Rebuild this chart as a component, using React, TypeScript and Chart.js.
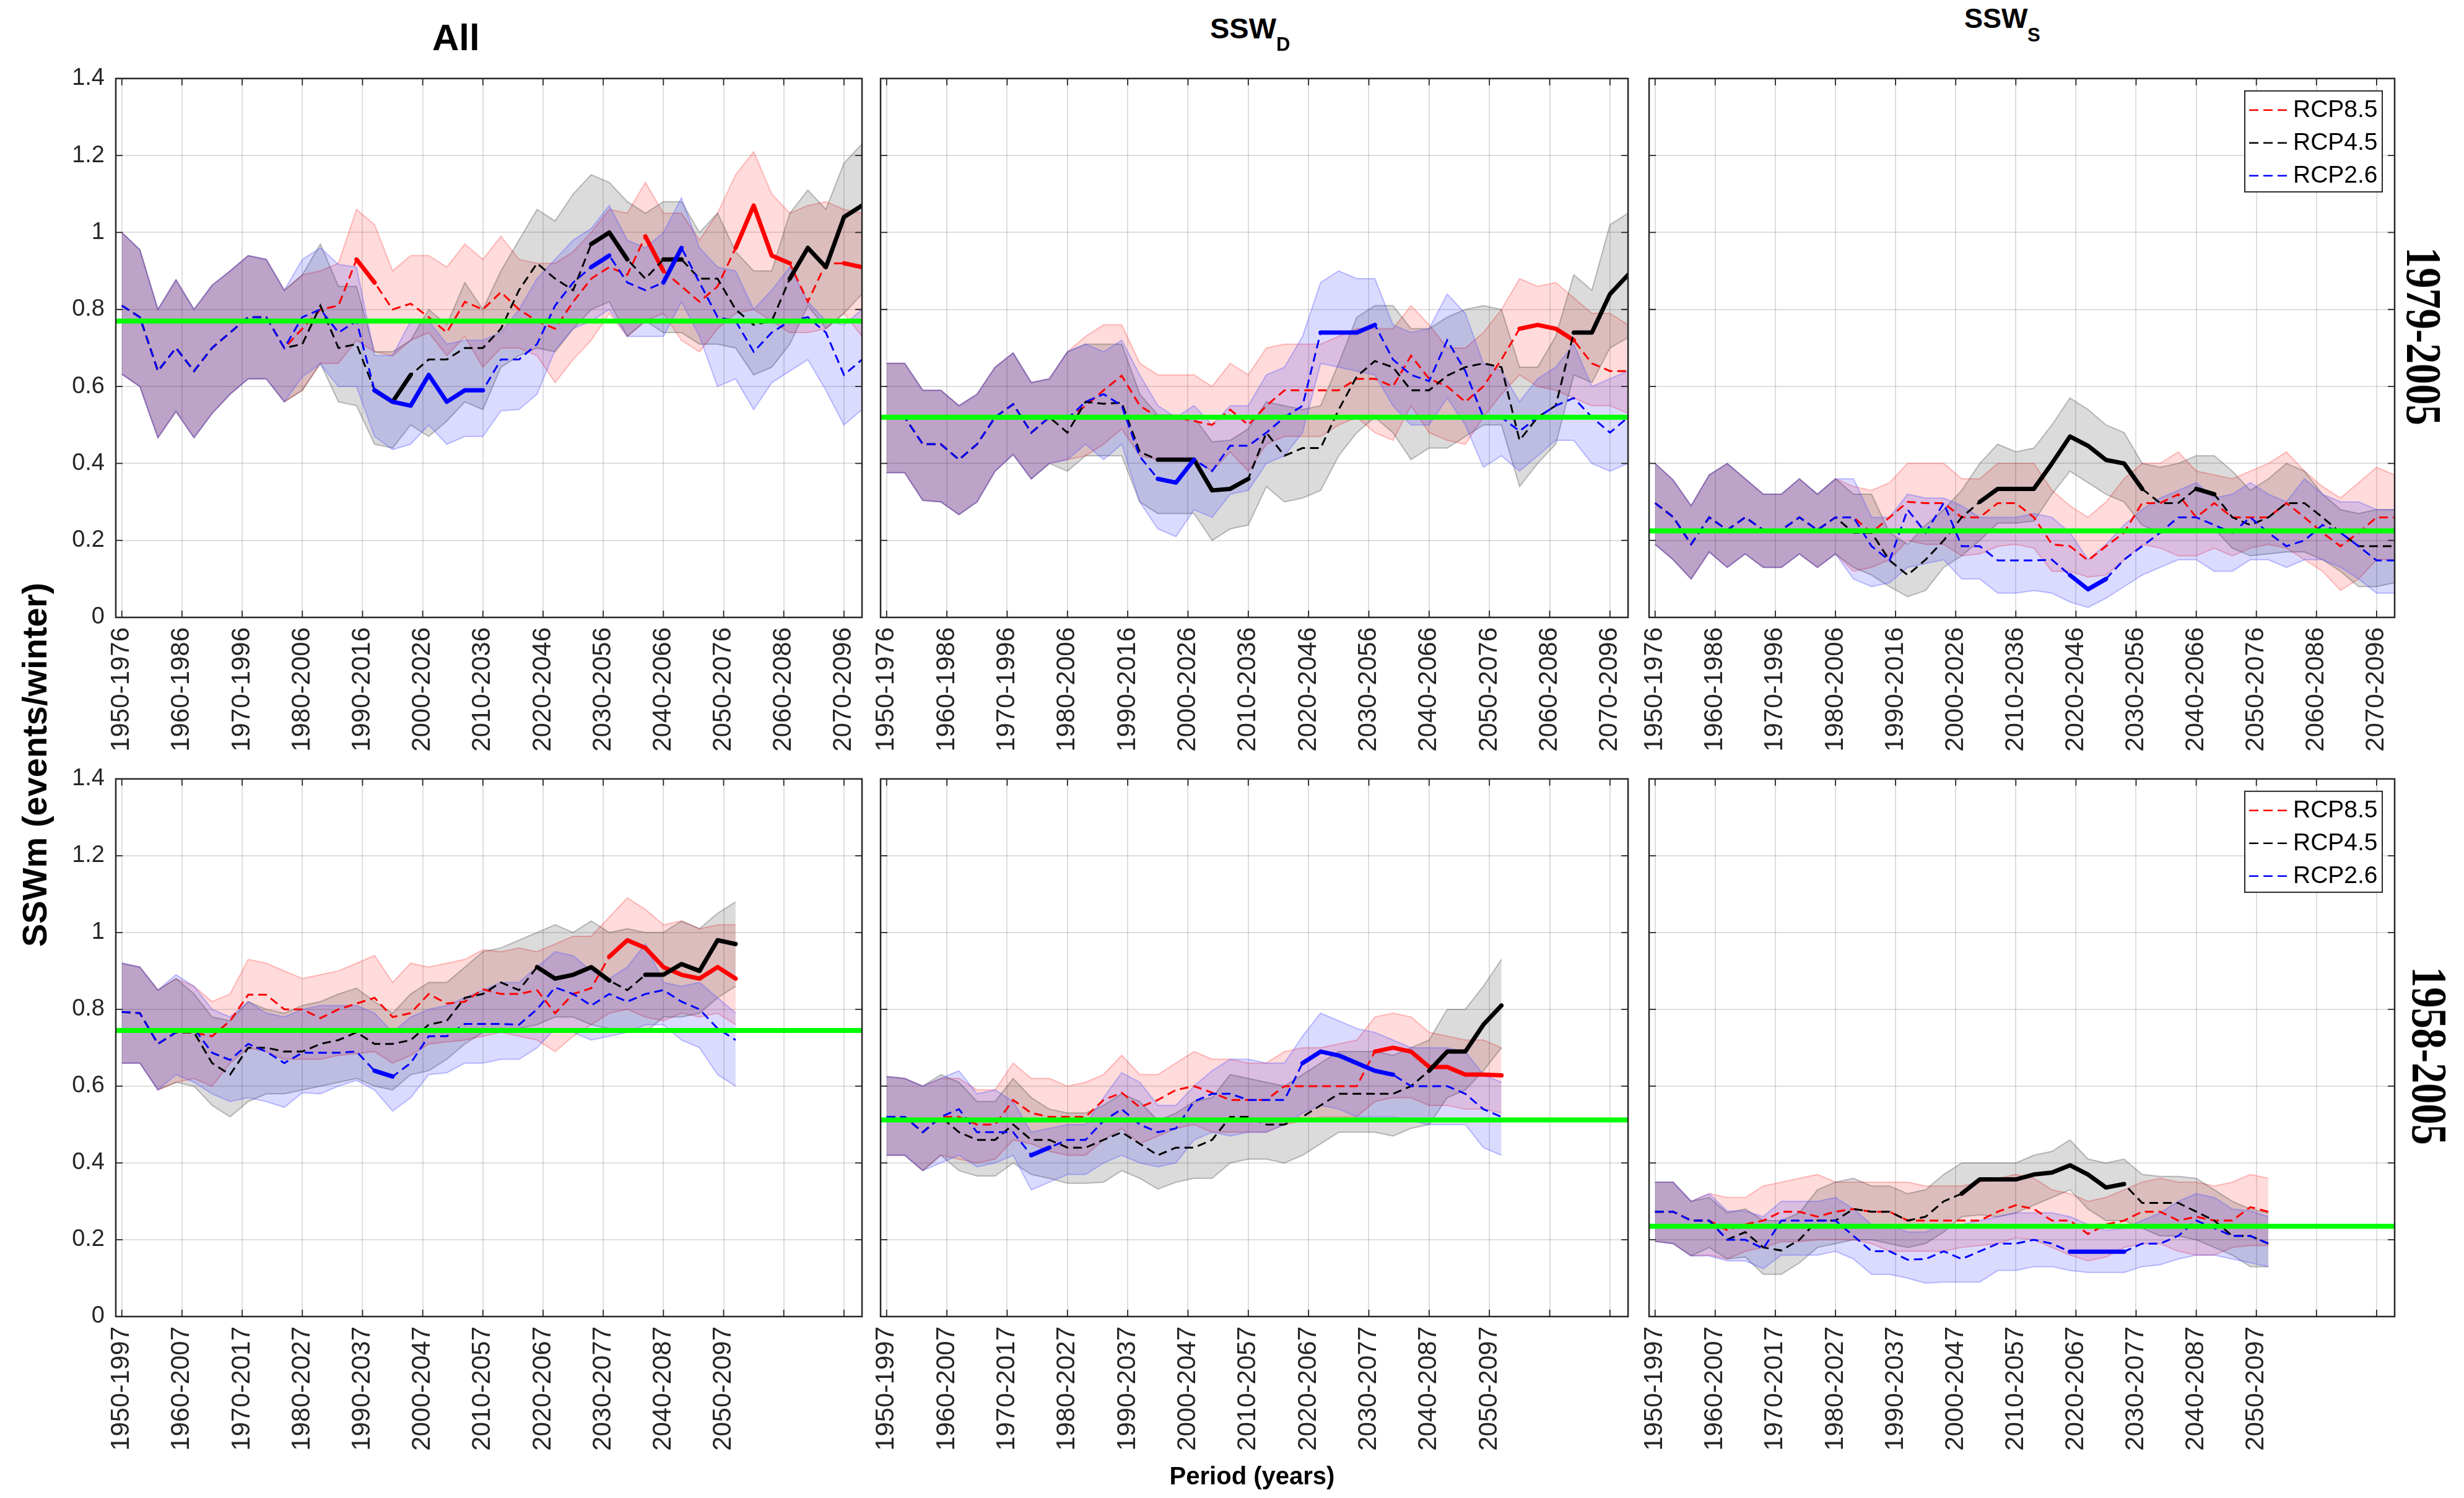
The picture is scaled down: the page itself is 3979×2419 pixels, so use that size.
import { useEffect, useRef } from 'react';
import { Chart, registerables } from 'chart.js';

Chart.register(...registerables);

document.body.style.margin = '0';
document.body.style.overflow = 'hidden';

const FONT = '"Liberation Sans", Arial, Helvetica, sans-serif';

// start year of each moving window
const yearsTop = [1950, 1953, 1956, 1959, 1962, 1965, 1968, 1971, 1974, 1977, 1980, 1983, 1986, 1989, 1992, 1995, 1998, 2001, 2004, 2007, 2010, 2013, 2016, 2019, 2022, 2025, 2028, 2031, 2034, 2037, 2040, 2043, 2046, 2049, 2052, 2055, 2058, 2061, 2064, 2067, 2070, 2073];
const yearsBottom = [1950, 1953, 1956, 1959, 1962, 1965, 1968, 1971, 1974, 1977, 1980, 1983, 1986, 1989, 1992, 1995, 1998, 2001, 2004, 2007, 2010, 2013, 2016, 2019, 2022, 2025, 2028, 2031, 2034, 2037, 2040, 2043, 2046, 2049, 2052];

const tickYears = [1950, 1960, 1970, 1980, 1990, 2000, 2010, 2020, 2030, 2040, 2050, 2060, 2070];
const topTickLabels = ['1950-1976', '1960-1986', '1970-1996', '1980-2006', '1990-2016', '2000-2026', '2010-2036', '2020-2046', '2030-2056', '2040-2066', '2050-2076', '2060-2086', '2070-2096'];
const bottomTickLabels = ['1950-1997', '1960-2007', '1970-2017', '1980-2027', '1990-2037', '2000-2047', '2010-2057', '2020-2067', '2030-2077', '2040-2087', '2050-2097', '', ''];
const yTicks = [0, 0.2, 0.4, 0.6, 0.8, 1, 1.2, 1.4];

const panelTitles = ['All', 'SSW', 'SSW'];
const titleSubs = ['', 'D', 'S'];
const rowLabels = ['1979-2005', '1958-2005'];
const legendLabels = ['RCP8.5', 'RCP4.5', 'RCP2.6'];

// observed reference (green)
const greenTop = [0.77, 0.52, 0.225];
const greenBottom = [0.745, 0.512, 0.235];

// ---- All, 1979-2005 ----
const allTopRcp85 = [.81, .78, .64, .70, .64, .70, .74, .78, .78, .70, .75, .80, .81, .93, .87, .80, .815, .78, .74, .82, .80, .845, .80, .77, .75, .82, .88, .91, .89, .99, .90, .86, .82, .86, .96, 1.07, .94, .92, .82, .92, .92, .91];
const allTopRcp85Hi = [1.0, .955, .80, .877, .80, .863, .90, .94, .93, .85, .89, .90, .92, 1.06, 1.02, .90, .94, .94, .91, .97, .93, .99, .93, .92, .92, .95, 1.0, 1.06, 1.05, 1.13, 1.05, 1.05, .98, 1.05, 1.15, 1.21, 1.1, 1.05, 1.07, 1.08, 1.06, 1.05];
const allTopRcp85Lo = [.632, .60, .467, .535, .467, .53, .58, .62, .62, .56, .59, .66, .66, .72, .69, .68, .72, .74, .68, .73, .65, .70, .70, .68, .61, .67, .72, .79, .73, .77, .79, .72, .69, .75, .79, .80, .77, .74, .74, .75, .79, .73];
const allTopRcp85Sig = [[1989, 1992], [2037, 2040], [2052, 2061], [2070, 2073]];
const allTopRcp45 = [.81, .78, .64, .70, .64, .70, .74, .78, .78, .70, .71, .81, .70, .71, .59, .56, .63, .67, .67, .70, .70, .75, .85, .92, .88, .85, .97, 1.0, .93, .88, .93, .93, .88, .88, .80, .76, .77, .88, .96, .91, 1.04, 1.07];
const allTopRcp45Hi = [1.0, .955, .80, .877, .80, .863, .90, .94, .93, .85, .89, .97, .86, .86, .69, .69, .72, .80, .76, .87, .80, .90, .98, 1.06, 1.03, 1.10, 1.15, 1.13, 1.08, 1.05, 1.08, 1.08, 1.0, 1.05, .95, .90, .90, 1.05, 1.11, 1.06, 1.18, 1.23];
const allTopRcp45Lo = [.632, .60, .467, .535, .467, .53, .58, .62, .62, .56, .59, .66, .56, .55, .45, .44, .50, .47, .51, .56, .54, .65, .68, .70, .69, .75, .80, .82, .73, .77, .74, .74, .71, .71, .70, .63, .65, .71, .81, .75, .79, .84];
const allTopRcp45Sig = [[1992, 1998], [2028, 2034], [2040, 2043], [2061, 2073]];
const allTopRcp26 = [.81, .78, .64, .70, .64, .70, .74, .78, .78, .70, .78, .80, .74, .77, .59, .56, .55, .63, .56, .59, .59, .67, .67, .71, .81, .87, .91, .94, .87, .85, .87, .96, .87, .78, .77, .69, .74, .77, .78, .74, .63, .67];
const allTopRcp26Hi = [1.0, .955, .80, .877, .80, .863, .90, .94, .93, .85, .93, .96, .917, .91, .68, .68, .77, .77, .71, .72, .72, .74, .80, .88, .93, .98, 1.01, 1.07, .98, .96, 1.0, 1.09, .96, .91, .90, .80, .85, .91, .82, .77, .76, .80];
const allTopRcp26Lo = [.632, .60, .467, .535, .467, .53, .58, .62, .62, .56, .625, .658, .60, .60, .47, .436, .45, .50, .45, .47, .47, .537, .54, .58, .695, .75, .77, .80, .73, .73, .73, .82, .73, .60, .62, .54, .61, .64, .67, .59, .50, .54];
const allTopRcp26Sig = [[1992, 2010], [2028, 2031], [2040, 2043]];

// ---- SSW_D, 1979-2005 ----
const dTopRcp85 = [.52, .52, .45, .45, .41, .45, .52, .554, .48, .52, .516, .55, .59, .628, .55, .52, .52, .51, .50, .54, .50, .55, .59, .59, .59, .59, .62, .62, .60, .68, .62, .60, .56, .60, .67, .75, .76, .75, .72, .66, .64, .64];
const dTopRcp85Hi = [.66, .66, .59, .59, .55, .58, .65, .687, .61, .62, .69, .73, .76, .76, .66, .63, .63, .63, .60, .66, .63, .70, .71, .71, .71, .73, .75, .75, .75, .81, .76, .70, .70, .74, .80, .88, .86, .87, .83, .79, .79, .76];
const dTopRcp85Lo = [.376, .376, .304, .30, .267, .30, .38, .423, .36, .40, .41, .42, .45, .49, .42, .41, .41, .41, .38, .43, .38, .45, .47, .47, .47, .50, .52, .48, .46, .55, .48, .46, .45, .52, .58, .63, .60, .59, .57, .55, .55, .53];
const dTopRcp85Sig = [[2055, 2064]];
const dTopRcp45 = [.52, .52, .45, .45, .41, .45, .52, .554, .48, .52, .48, .56, .555, .558, .43, .41, .41, .41, .33, .334, .36, .48, .42, .44, .44, .54, .626, .666, .65, .59, .59, .628, .65, .66, .65, .46, .52, .55, .74, .74, .84, .89];
const dTopRcp45Hi = [.66, .66, .59, .59, .55, .58, .65, .687, .61, .62, .69, .71, .71, .71, .58, .526, .526, .52, .456, .46, .49, .56, .55, .54, .55, .66, .78, .81, .81, .75, .75, .78, .80, .81, .80, .65, .65, .73, .89, .85, 1.02, 1.05];
const dTopRcp45Lo = [.376, .376, .304, .30, .267, .30, .38, .423, .36, .40, .38, .42, .42, .42, .30, .27, .27, .27, .20, .23, .24, .34, .30, .31, .33, .42, .48, .52, .48, .41, .44, .44, .47, .50, .50, .34, .40, .45, .63, .61, .70, .727];
const dTopRcp45Sig = [[1995, 2010], [2064, 2073]];
const dTopRcp26 = [.52, .52, .45, .45, .41, .45, .52, .554, .48, .52, .516, .56, .58, .55, .418, .36, .35, .41, .38, .446, .446, .48, .52, .55, .74, .74, .74, .76, .67, .63, .614, .72, .64, .52, .52, .484, .52, .55, .57, .52, .48, .52];
const dTopRcp26Hi = [.66, .66, .59, .59, .55, .58, .65, .687, .61, .62, .69, .71, .69, .72, .63, .55, .52, .55, .50, .55, .55, .63, .65, .73, .87, .90, .88, .88, .76, .74, .75, .84, .79, .66, .64, .56, .62, .65, .71, .60, .62, .64];
const dTopRcp26Lo = [.376, .376, .304, .30, .267, .30, .38, .423, .36, .40, .41, .45, .41, .45, .30, .23, .21, .28, .26, .32, .33, .40, .42, .48, .66, .65, .64, .63, .55, .50, .50, .57, .50, .39, .42, .38, .42, .46, .46, .40, .38, .40];
const dTopRcp26Sig = [[1995, 2001], [2022, 2031]];

// ---- SSW_S, 1979-2005 ----
const sTopRcp85 = [.297, .261, .19, .26, .227, .26, .227, .227, .26, .227, .26, .26, .22, .26, .30, .297, .297, .26, .26, .297, .297, .26, .19, .185, .148, .185, .22, .297, .297, .32, .26, .297, .26, .26, .26, .297, .26, .22, .185, .22, .26, .26];
const sTopRcp85Hi = [.40, .357, .29, .37, .40, .36, .32, .32, .36, .32, .36, .34, .33, .35, .40, .40, .40, .36, .36, .40, .40, .40, .33, .29, .26, .30, .36, .40, .40, .43, .38, .37, .36, .38, .40, .43, .38, .34, .31, .35, .39, .37];
const sTopRcp85Lo = [.19, .15, .10, .17, .13, .165, .13, .13, .165, .13, .165, .12, .13, .15, .20, .19, .19, .16, .165, .185, .19, .18, .12, .12, .105, .11, .15, .19, .18, .16, .16, .18, .16, .18, .19, .18, .15, .12, .07, .10, .15, .15];
const sTopRcp85Sig: number[][] = [];
const sTopRcp45 = [.297, .261, .19, .26, .227, .26, .227, .227, .26, .227, .26, .22, .22, .148, .11, .15, .20, .26, .30, .334, .334, .334, .40, .47, .446, .409, .40, .334, .297, .297, .334, .32, .26, .24, .26, .297, .297, .26, .22, .185, .185, .185];
const sTopRcp45Hi = [.40, .357, .29, .37, .40, .36, .32, .32, .36, .32, .36, .32, .32, .22, .19, .24, .28, .33, .40, .45, .43, .44, .50, .57, .54, .50, .48, .40, .39, .40, .42, .42, .38, .33, .36, .40, .38, .32, .28, .27, .28, .28];
const sTopRcp45Lo = [.19, .15, .10, .17, .13, .165, .13, .13, .165, .13, .165, .13, .11, .08, .054, .07, .13, .16, .20, .245, .245, .25, .32, .38, .35, .32, .30, .24, .22, .23, .23, .23, .18, .16, .165, .17, .17, .15, .12, .08, .08, .09];
const sTopRcp45Sig = [[2004, 2031], [2040, 2043]];
const sTopRcp26 = [.297, .261, .19, .26, .227, .26, .227, .227, .26, .227, .26, .26, .185, .148, .28, .22, .297, .185, .185, .148, .148, .148, .15, .11, .073, .10, .15, .185, .22, .26, .26, .24, .22, .26, .22, .185, .20, .24, .22, .185, .148, .148];
const sTopRcp26Hi = [.40, .357, .29, .37, .40, .36, .32, .32, .36, .32, .36, .36, .26, .26, .32, .31, .31, .29, .26, .26, .26, .27, .26, .22, .15, .19, .24, .28, .31, .33, .35, .31, .32, .35, .32, .30, .36, .32, .30, .30, .28, .28];
const sTopRcp26Lo = [.19, .15, .10, .17, .13, .165, .13, .13, .165, .13, .165, .10, .08, .09, .13, .14, .15, .10, .10, .063, .063, .07, .063, .04, .026, .05, .08, .11, .13, .15, .15, .12, .12, .15, .15, .13, .15, .15, .13, .10, .063, .063];
const sTopRcp26Sig = [[2019, 2025]];

// ---- All, 1958-2005 ----
const allBotRcp85 = [.793, .79, .71, .74, .739, .73, .77, .838, .838, .80, .80, .777, .80, .815, .83, .78, .79, .84, .815, .82, .852, .84, .84, .85, .79, .84, .855, .937, .98, .96, .91, .89, .88, .91, .88];
const allBotRcp85Hi = [.92, .91, .85, .88, .86, .82, .84, .93, .92, .90, .88, .89, .90, .92, .94, .87, .92, .91, .92, .93, .955, .95, .96, .95, .97, .99, .99, 1.04, 1.09, 1.06, 1.02, 1.03, 1.01, 1.02, 1.02];
const allBotRcp85Lo = [.66, .66, .59, .61, .62, .60, .66, .70, .69, .67, .67, .67, .68, .685, .69, .66, .68, .71, .715, .72, .73, .74, .73, .72, .69, .73, .76, .79, .80, .78, .77, .79, .78, .79, .76];
const allBotRcp85Sig = [[2031, 2052]];
const allBotRcp45 = [.793, .79, .71, .74, .74, .66, .63, .70, .70, .69, .69, .71, .72, .74, .71, .71, .72, .76, .77, .83, .84, .87, .85, .91, .88, .89, .91, .875, .85, .89, .89, .918, .90, .98, .97];
const allBotRcp45Hi = [.92, .91, .85, .88, .84, .78, .77, .82, .80, .79, .81, .82, .84, .855, .82, .79, .84, .87, .87, .91, .95, .96, .98, 1.00, 1.02, 1.0, 1.03, 1.0, 1.01, 1.0, 1.0, 1.03, 1.01, 1.05, 1.08];
const allBotRcp45Lo = [.66, .66, .59, .61, .60, .55, .52, .56, .58, .58, .59, .60, .61, .62, .60, .59, .63, .64, .67, .71, .74, .74, .75, .76, .78, .78, .76, .75, .74, .74, .78, .78, .79, .83, .86];
const allBotRcp45Sig = [[2019, 2031], [2037, 2052]];
const allBotRcp26 = [.793, .79, .71, .74, .75, .687, .668, .71, .69, .66, .687, .687, .687, .69, .64, .625, .66, .73, .73, .762, .762, .762, .76, .80, .857, .84, .81, .84, .82, .84, .85, .82, .80, .75, .72];
const allBotRcp26Hi = [.92, .91, .85, .89, .86, .80, .78, .82, .79, .78, .80, .81, .81, .81, .79, .74, .78, .80, .81, .83, .85, .87, .87, .91, .95, .94, .90, .88, .91, .97, .87, .86, .87, .83, .79];
const allBotRcp26Lo = [.66, .66, .59, .63, .61, .58, .56, .57, .56, .545, .583, .58, .60, .615, .59, .535, .57, .63, .635, .66, .66, .67, .67, .70, .75, .74, .72, .73, .74, .76, .76, .72, .70, .63, .60];
const allBotRcp26Sig = [[1992, 1995]];

// ---- SSW_D, 1958-2005 ----
const dBotRcp85 = [.52, .52, .48, .52, .52, .50, .50, .564, .53, .52, .52, .52, .564, .583, .545, .564, .59, .60, .583, .564, .564, .564, .60, .60, .60, .60, .60, .69, .70, .69, .65, .65, .63, .63, .628];
const dBotRcp85Hi = [.625, .62, .60, .62, .62, .59, .59, .66, .62, .62, .60, .61, .63, .68, .63, .63, .66, .69, .67, .67, .66, .66, .69, .70, .70, .71, .72, .78, .79, .78, .74, .73, .72, .72, .70];
const dBotRcp85Lo = [.42, .42, .38, .42, .41, .40, .41, .46, .45, .43, .42, .42, .46, .49, .45, .47, .49, .50, .48, .48, .48, .48, .50, .51, .52, .52, .52, .56, .57, .57, .55, .55, .54, .54, .53];
const dBotRcp85Sig = [[2031, 2052]];
const dBotRcp45 = [.52, .52, .48, .52, .48, .46, .46, .50, .46, .46, .44, .44, .46, .48, .45, .42, .44, .44, .46, .52, .52, .50, .50, .52, .55, .58, .58, .58, .58, .60, .64, .69, .69, .76, .81];
const dBotRcp45Hi = [.625, .62, .60, .63, .61, .56, .56, .62, .57, .54, .53, .53, .55, .58, .56, .51, .53, .56, .57, .63, .62, .61, .60, .63, .66, .69, .69, .69, .68, .70, .72, .80, .80, .86, .93];
const dBotRcp45Lo = [.42, .42, .38, .42, .38, .366, .366, .40, .37, .36, .347, .347, .35, .38, .36, .332, .35, .36, .36, .40, .41, .41, .40, .42, .45, .48, .48, .48, .47, .49, .50, .57, .59, .64, .70];
const dBotRcp45Sig = [[2040, 2052]];
const dBotRcp26 = [.52, .52, .48, .52, .54, .48, .48, .48, .42, .44, .46, .46, .51, .54, .50, .48, .49, .56, .58, .58, .564, .564, .564, .66, .69, .68, .66, .64, .63, .60, .60, .60, .58, .54, .52];
const dBotRcp26Hi = [.625, .62, .60, .62, .64, .58, .59, .56, .48, .49, .50, .50, .57, .635, .61, .55, .55, .60, .64, .67, .67, .66, .66, .73, .79, .77, .75, .74, .72, .70, .70, .70, .69, .63, .61];
const dBotRcp26Lo = [.42, .42, .38, .40, .42, .39, .40, .42, .33, .35, .37, .37, .40, .42, .40, .39, .40, .46, .48, .47, .48, .48, .50, .53, .55, .54, .52, .52, .52, .51, .50, .50, .50, .44, .42];
const dBotRcp26Sig = [[1974, 1977], [2019, 2034]];

// ---- SSW_S, 1958-2005 ----
const sBotRcp85 = [.273, .273, .25, .25, .225, .24, .25, .273, .273, .26, .273, .28, .273, .273, .25, .25, .25, .25, .25, .273, .29, .28, .25, .25, .215, .24, .25, .273, .273, .25, .26, .25, .25, .285, .273];
const sBotRcp85Hi = [.35, .35, .30, .32, .31, .31, .34, .35, .36, .37, .35, .35, .35, .35, .35, .34, .34, .34, .35, .36, .37, .36, .33, .32, .30, .31, .33, .35, .36, .35, .35, .34, .35, .37, .36];
const sBotRcp85Lo = [.196, .19, .158, .16, .15, .17, .18, .195, .195, .20, .20, .20, .19, .17, .17, .17, .17, .18, .185, .19, .205, .20, .18, .16, .145, .155, .18, .19, .19, .17, .16, .16, .18, .185, .185];
const sBotRcp85Sig: number[][] = [];
const sBotRcp45 = [.273, .273, .25, .25, .20, .22, .18, .172, .20, .25, .25, .28, .273, .273, .25, .26, .30, .32, .357, .357, .357, .37, .375, .394, .37, .336, .345, .296, .296, .296, .273, .25, .21, .21, .19];
const sBotRcp45Hi = [.35, .35, .30, .31, .27, .28, .25, .25, .27, .33, .35, .36, .34, .34, .32, .33, .37, .40, .40, .40, .40, .42, .43, .46, .41, .40, .41, .37, .365, .365, .36, .33, .30, .28, .27];
const sBotRcp45Lo = [.196, .19, .158, .18, .15, .155, .11, .11, .14, .18, .19, .20, .20, .19, .18, .19, .22, .26, .265, .26, .27, .29, .31, .33, .28, .25, .25, .23, .21, .21, .20, .18, .16, .13, .13];
const sBotRcp45Sig = [[2001, 2028]];
const sBotRcp26 = [.273, .273, .25, .25, .20, .20, .177, .25, .25, .25, .25, .21, .17, .17, .148, .15, .17, .15, .17, .19, .19, .20, .19, .169, .169, .169, .169, .19, .19, .21, .25, .23, .21, .21, .19];
const sBotRcp26Hi = [.35, .35, .30, .32, .275, .275, .26, .30, .30, .30, .31, .28, .24, .24, .22, .22, .24, .24, .25, .26, .27, .27, .27, .26, .24, .224, .23, .25, .27, .30, .32, .31, .28, .275, .26];
const sBotRcp26Lo = [.196, .19, .158, .158, .145, .145, .125, .16, .16, .16, .17, .15, .11, .11, .10, .087, .09, .09, .09, .12, .12, .13, .13, .12, .115, .115, .115, .13, .135, .15, .16, .16, .15, .14, .13];
const sBotRcp26Sig = [[2019, 2028]];

const X_MIN = 1949;
const X_MAX = 2073;
const AXW = 190;
const AXH = 270;
const PADT = 30;
const PADR = 30;

// z: drawing layer, lower = on top (Chart.js "order")
const RED = { line: '#ff0000', band: 'rgba(255,0,0,0.14)', edge: 'rgba(255,60,60,0.32)', z: 3 };
const BLACK = { line: '#000000', band: 'rgba(0,0,0,0.14)', edge: 'rgba(60,60,60,0.32)', z: 2 };
const BLUE = { line: '#0000ff', band: 'rgba(0,0,255,0.14)', edge: 'rgba(90,90,255,0.38)', z: 1 };

interface Series {
  mean: number[];
  hi: number[];
  lo: number[];
  sig: number[][];
  color: { line: string; band: string; edge: string; z: number };
}

interface PanelProps {
  left: number;
  top: number;
  width: number;
  height: number;
  years: number[];
  series: Series[];
  green: number;
  tickLabels: string[];
  showY: boolean;
  legend: boolean;
}

const boxPlugin = {
  id: 'box',
  afterDraw(chart: any, _args: any, opts: any) {
    const { ctx, chartArea: a, scales } = chart;
    ctx.save();
    ctx.strokeStyle = '#262626';
    ctx.lineWidth = 1.8;
    ctx.beginPath();
    for (const v of tickYears) {
      const px = scales.x.getPixelForValue(v);
      ctx.moveTo(px, a.bottom);
      ctx.lineTo(px, a.bottom - 11);
      ctx.moveTo(px, a.top);
      ctx.lineTo(px, a.top + 11);
    }
    for (const v of yTicks) {
      const py = scales.y.getPixelForValue(v);
      ctx.moveTo(a.left, py);
      ctx.lineTo(a.left + 11, py);
      ctx.moveTo(a.right, py);
      ctx.lineTo(a.right - 11, py);
    }
    ctx.stroke();
    ctx.lineWidth = 2.5;
    ctx.strokeRect(a.left, a.top, a.right - a.left, a.bottom - a.top);

    if (opts && opts.legend) {
      const w = 222;
      const h = 163;
      const bx = a.right - 20 - w;
      const by = a.top + 20;
      ctx.fillStyle = '#ffffff';
      ctx.fillRect(bx, by, w, h);
      ctx.lineWidth = 2;
      ctx.strokeStyle = '#262626';
      ctx.strokeRect(bx, by, w, h);
      const cols = [RED.line, BLACK.line, BLUE.line];
      ctx.font = `39px ${FONT}`;
      ctx.textBaseline = 'middle';
      legendLabels.forEach((lab, i) => {
        const y = by + 31 + i * 53;
        ctx.beginPath();
        ctx.setLineDash([15, 8]);
        ctx.strokeStyle = cols[i];
        ctx.lineWidth = 2.5;
        ctx.moveTo(bx + 7, y);
        ctx.lineTo(bx + 72, y);
        ctx.stroke();
        ctx.setLineDash([]);
        ctx.fillStyle = '#000000';
        ctx.fillText(lab, bx + 78, y);
      });
    }
    ctx.restore();
  },
};

function Panel(props: PanelProps) {
  const { left, top, width, height, years, series, green, tickLabels, showY, legend } = props;
  const canvasRef = useRef<HTMLCanvasElement | null>(null);
  const chartRef = useRef<Chart | null>(null);

  const cw = width + AXW + PADR;
  const ch = height + PADT + AXH;

  useEffect(() => {
    const ctx = canvasRef.current?.getContext('2d');
    if (!ctx) return;
    if (chartRef.current) chartRef.current.destroy();

    const pts = (ys: number[]) => years.map((x, i) => ({ x, y: ys[i] }));
    const inSig = (x: number, ranges: number[][]) => ranges.some(([a, b]) => x >= a && x <= b);

    const datasets: any[] = [
      {
        data: [{ x: X_MIN, y: green }, { x: X_MAX, y: green }],
        borderColor: '#00ff00',
        borderWidth: 8,
        order: 0,
      },
    ];
    series.forEach((s) => {
      datasets.push({
        data: years.map((x, i) => ({ x, y: inSig(x, s.sig) ? s.mean[i] : null })),
        borderColor: s.color.line,
        borderWidth: 7,
        borderCapStyle: 'round',
        borderJoinStyle: 'round',
        spanGaps: false,
        order: s.color.z,
      });
      datasets.push({
        data: pts(s.mean),
        borderColor: s.color.line,
        borderWidth: 3,
        borderDash: [14, 8],
        order: s.color.z,
      });
    });
    series.forEach((s) => {
      datasets.push({ data: pts(s.lo), borderColor: s.color.edge, borderWidth: 2, fill: false, order: 10 + s.color.z });
      datasets.push({
        data: pts(s.hi),
        borderColor: s.color.edge,
        borderWidth: 2,
        backgroundColor: s.color.band,
        fill: '-1',
        order: 10 + s.color.z,
      });
    });

    chartRef.current = new Chart(ctx, {
      type: 'line',
      data: { datasets },
      options: {
        responsive: false,
        maintainAspectRatio: false,
        animation: false,
        layout: { padding: { top: PADT, right: PADR, left: 0, bottom: 0 } },
        elements: { point: { radius: 0 }, line: { tension: 0 } },
        plugins: {
          legend: { display: false },
          tooltip: { enabled: false },
          box: { legend },
        } as any,
        scales: {
          x: {
            type: 'linear',
            min: X_MIN,
            max: X_MAX,
            afterBuildTicks: (s: any) => {
              s.ticks = tickYears.map((v) => ({ value: v }));
            },
            afterFit: (s: any) => {
              s.height = AXH;
            },
            border: { display: false },
            grid: { color: 'rgba(0,0,0,0.13)', lineWidth: 2, drawTicks: false },
            ticks: {
              autoSkip: false,
              minRotation: 90,
              maxRotation: 90,
              padding: 16,
              color: '#262626',
              font: { family: FONT, size: 42 },
              callback: (_v: any, i: number) => tickLabels[i],
            },
          },
          y: {
            type: 'linear',
            min: 0,
            max: 1.4,
            afterBuildTicks: (s: any) => {
              s.ticks = yTicks.map((v) => ({ value: v }));
            },
            afterFit: (s: any) => {
              s.width = AXW;
            },
            border: { display: false },
            grid: { color: 'rgba(0,0,0,0.13)', lineWidth: 2, drawTicks: false },
            ticks: {
              padding: 18,
              color: '#262626',
              font: { family: FONT, size: 38 },
              callback: (v: any) => (showY ? String(Math.round(Number(v) * 10) / 10) : ''),
            },
          },
        },
      },
      plugins: [boxPlugin],
    });

    return () => {
      if (chartRef.current) {
        chartRef.current.destroy();
        chartRef.current = null;
      }
    };
  }, []);

  return (
    <canvas
      ref={canvasRef}
      width={cw}
      height={ch}
      style={{ position: 'absolute', left: left - AXW, top: top - PADT, width: cw, height: ch }}
    />
  );
}

const colLefts = [187, 1422, 2663];
const colWidths = [1213, 1215, 1212];
const rowTops = [116, 1247];
const rowHeights = [881, 879];

const topSeries: Series[][] = [
  [
    { mean: allTopRcp85, hi: allTopRcp85Hi, lo: allTopRcp85Lo, sig: allTopRcp85Sig, color: RED },
    { mean: allTopRcp45, hi: allTopRcp45Hi, lo: allTopRcp45Lo, sig: allTopRcp45Sig, color: BLACK },
    { mean: allTopRcp26, hi: allTopRcp26Hi, lo: allTopRcp26Lo, sig: allTopRcp26Sig, color: BLUE },
  ],
  [
    { mean: dTopRcp85, hi: dTopRcp85Hi, lo: dTopRcp85Lo, sig: dTopRcp85Sig, color: RED },
    { mean: dTopRcp45, hi: dTopRcp45Hi, lo: dTopRcp45Lo, sig: dTopRcp45Sig, color: BLACK },
    { mean: dTopRcp26, hi: dTopRcp26Hi, lo: dTopRcp26Lo, sig: dTopRcp26Sig, color: BLUE },
  ],
  [
    { mean: sTopRcp85, hi: sTopRcp85Hi, lo: sTopRcp85Lo, sig: sTopRcp85Sig, color: RED },
    { mean: sTopRcp45, hi: sTopRcp45Hi, lo: sTopRcp45Lo, sig: sTopRcp45Sig, color: BLACK },
    { mean: sTopRcp26, hi: sTopRcp26Hi, lo: sTopRcp26Lo, sig: sTopRcp26Sig, color: BLUE },
  ],
];

const bottomSeries: Series[][] = [
  [
    { mean: allBotRcp85, hi: allBotRcp85Hi, lo: allBotRcp85Lo, sig: allBotRcp85Sig, color: RED },
    { mean: allBotRcp45, hi: allBotRcp45Hi, lo: allBotRcp45Lo, sig: allBotRcp45Sig, color: BLACK },
    { mean: allBotRcp26, hi: allBotRcp26Hi, lo: allBotRcp26Lo, sig: allBotRcp26Sig, color: BLUE },
  ],
  [
    { mean: dBotRcp85, hi: dBotRcp85Hi, lo: dBotRcp85Lo, sig: dBotRcp85Sig, color: RED },
    { mean: dBotRcp45, hi: dBotRcp45Hi, lo: dBotRcp45Lo, sig: dBotRcp45Sig, color: BLACK },
    { mean: dBotRcp26, hi: dBotRcp26Hi, lo: dBotRcp26Lo, sig: dBotRcp26Sig, color: BLUE },
  ],
  [
    { mean: sBotRcp85, hi: sBotRcp85Hi, lo: sBotRcp85Lo, sig: sBotRcp85Sig, color: RED },
    { mean: sBotRcp45, hi: sBotRcp45Hi, lo: sBotRcp45Lo, sig: sBotRcp45Sig, color: BLACK },
    { mean: sBotRcp26, hi: sBotRcp26Hi, lo: sBotRcp26Lo, sig: sBotRcp26Sig, color: BLUE },
  ],
];

const abs = (extra: any) => ({ position: 'absolute' as const, whiteSpace: 'nowrap' as const, lineHeight: 1, ...extra });
const SERIF = '"Liberation Serif", "Times New Roman", serif';

export default function App() {
  const panels: PanelProps[] = [];
  for (let c = 0; c < 3; c++) {
    panels.push({
      left: colLefts[c], top: rowTops[0], width: colWidths[c], height: rowHeights[0],
      years: yearsTop, series: topSeries[c], green: greenTop[c], tickLabels: topTickLabels,
      showY: c === 0, legend: c === 2,
    });
    panels.push({
      left: colLefts[c], top: rowTops[1], width: colWidths[c], height: rowHeights[1],
      years: yearsBottom, series: bottomSeries[c], green: greenBottom[c], tickLabels: bottomTickLabels,
      showY: c === 0, legend: c === 2,
    });
  }

  return (
    <div style={{ position: 'relative', width: 3979, height: 2419, background: '#ffffff', overflow: 'hidden', fontFamily: FONT }}>
      {panels.map((p, i) => (
        <Panel key={i} {...p} />
      ))}

      {/* column titles */}
      <div style={abs({ left: 698, top: 31, fontSize: 60, fontWeight: 'bold' })}>{panelTitles[0]}</div>
      <div style={abs({ left: 1954, top: 22, fontSize: 47, fontWeight: 'bold' })}>{panelTitles[1]}</div>
      <div style={abs({ left: 2061, top: 56, fontSize: 31, fontWeight: 'bold' })}>{titleSubs[1]}</div>
      <div style={abs({ left: 3172, top: 7, fontSize: 45, fontWeight: 'bold' })}>{panelTitles[2]}</div>
      <div style={abs({ left: 3274, top: 41, fontSize: 31, fontWeight: 'bold' })}>{titleSubs[2]}</div>

      {/* shared axis labels */}
      <div
        style={abs({ left: 56, top: 1235, fontSize: 56, fontWeight: 'bold', transform: 'translate(-50%, -50%) rotate(-90deg)' })}
      >
        SSWm (events/winter)
      </div>
      <div style={abs({ left: 2022, top: 2383, fontSize: 40, fontWeight: 'bold', transform: 'translate(-50%, -50%)' })}>
        Period (years)
      </div>

      {/* row labels */}
      <div
        style={abs({
          left: 3914, top: 543, fontSize: 80, fontFamily: SERIF, fontWeight: 'bold',
          transform: 'translate(-50%, -50%) rotate(90deg) scale(0.83, 1)',
        })}
      >
        {rowLabels[0]}
      </div>
      <div
        style={abs({
          left: 3923, top: 1705, fontSize: 80, fontFamily: SERIF, fontWeight: 'bold',
          transform: 'translate(-50%, -50%) rotate(90deg) scale(0.83, 1)',
        })}
      >
        {rowLabels[1]}
      </div>
    </div>
  );
}
